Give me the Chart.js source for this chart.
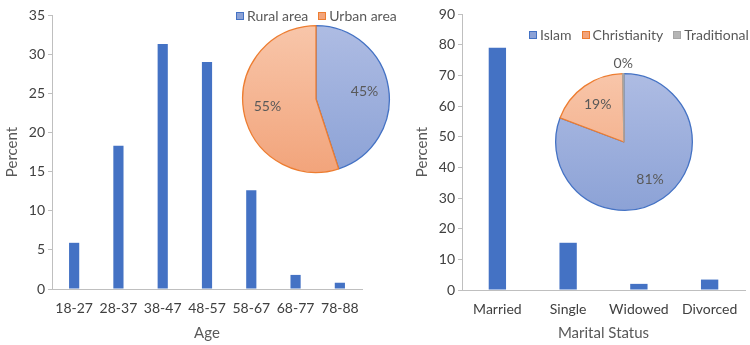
<!DOCTYPE html>
<html>
<head>
<meta charset="utf-8">
<script src="https://cdn.jsdelivr.net/npm/chart.js@4"></script>
<style>
  body { margin: 0; background: #fff; width: 750px; height: 345px; position: relative; overflow: hidden; font-family: Lato, sans-serif; }
  .box { position: absolute; }
  .legend { position: absolute; display: flex; align-items: center; font-size: 14px; color: #595959; white-space: nowrap; line-height: 15px; }
  .legend .item { display: flex; align-items: center; margin-right: 10px; }
  .legend .item:last-child { margin-right: 0; }
  .legend .sw { display: inline-block; width: 6px; height: 6px; border: 1px solid; margin-right: 3px; }
</style>
</head>
<body>
<div class="box" style="left:0;top:0;width:375px;height:345px"><canvas id="ageBar"></canvas></div>
<div class="box" style="left:375px;top:0;width:375px;height:345px"><canvas id="maritalBar"></canvas></div>
<div class="box" style="left:241px;top:24px;width:150px;height:150px"><canvas id="areaPie"></canvas></div>
<div class="box" style="left:539px;top:57px;width:170px;height:170px"><canvas id="religionPie"></canvas></div>
<div class="legend" id="areaLegend" style="left:236px;top:8px"></div>
<div class="legend" id="religionLegend" style="left:529px;top:27px"></div>
<script>
const ageGroups = ["18-27", "28-37", "38-47", "48-57", "58-67", "68-77", "78-88"];
const agePercent = [5.9, 18.3, 31.3, 29.0, 12.6, 1.8, 0.8];

const maritalStatus = ["Married", "Single", "Widowed", "Divorced"];
const maritalPercent = [79.0, 15.4, 2.0, 3.4];

const areaLabels = ["Rural area", "Urban area"];
const areaShare = [45, 55];

const religionLabels = ["Islam", "Christianity", "Traditional"];
const religionShare = [81, 19, 0.3];

const ageTicks = { max: 35, step: 5 };
const maritalTicks = { max: 90, step: 10 };

const barBlue = "#4472C4";
const axisGrey = "#BFBFBF";
const textGrey = "#595959";

// light top / darker bottom fills like the office gradient style
const sliceFills = [["#AEBCE3", "#8CA2D6"], ["#F8C6AA", "#F2A47B"], ["#CFCFCF", "#B5B5B5"]];
const sliceBorders = ["#4472C4", "#ED7D31", "#A5A5A5"];

Chart.defaults.font.family = "Lato, sans-serif";
Chart.defaults.color = textGrey;

function barChart(id, labels, values, ticks, xTitle, pad, barPct) {
  return new Chart(document.getElementById(id), {
    type: "bar",
    data: {
      labels: labels,
      datasets: [{ data: values, backgroundColor: barBlue, categoryPercentage: 1, barPercentage: barPct }]
    },
    options: {
      responsive: true,
      maintainAspectRatio: false,
      animation: false,
      layout: { padding: pad },
      plugins: { legend: { display: false }, tooltip: { enabled: false } },
      scales: {
        x: {
          grid: { display: false, drawTicks: false },
          border: { display: true, color: axisGrey },
          ticks: { color: "#404040", font: { size: 14 }, padding: 11 },
          title: { display: true, text: xTitle, color: textGrey, font: { size: 15 }, padding: { top: 0, bottom: 3 } },
          afterFit: s => { s.height = 345 - pad.bottomLine; }
        },
        y: {
          min: 0,
          max: ticks.max,
          ticks: { stepSize: ticks.step, color: "#404040", font: { size: 14 }, padding: 3 },
          grid: { drawOnChartArea: false, tickLength: 4, color: axisGrey },
          border: { color: axisGrey },
          title: { display: true, text: "Percent", color: textGrey, font: { size: 15 }, padding: { top: 3, bottom: 0 } },
          afterFit: s => { s.width = 52; }
        }
      }
    }
  });
}

barChart("ageBar", ageGroups, agePercent, ageTicks, "Age", { top: 15, right: 13, left: 0, bottom: 0, bottomLine: 289 }, 0.23);
barChart("maritalBar", maritalStatus, maritalPercent, maritalTicks, "Marital Status", { top: 14, right: 5, left: 35, bottom: 0, bottomLine: 290 }, 0.245);

function sliceFill(ctx) {
  const c = sliceFills[ctx.dataIndex];
  const area = ctx.chart.chartArea;
  if (!area) return c[1];
  const g = ctx.chart.ctx.createLinearGradient(0, area.top, 0, area.bottom);
  g.addColorStop(0, c[0]);
  g.addColorStop(1, c[1]);
  return g;
}

const pctLabels = {
  id: "pctLabels",
  afterDatasetsDraw(chart) {
    const ctx = chart.ctx;
    const data = chart.data.datasets[0].data;
    const total = data.reduce((a, b) => a + b, 0);
    ctx.save();
    ctx.font = "14px Lato, sans-serif";
    ctx.fillStyle = textGrey;
    ctx.textAlign = "center";
    ctx.textBaseline = "middle";
    chart.getDatasetMeta(0).data.forEach((arc, i) => {
      const p = arc.getProps(["x", "y", "startAngle", "endAngle", "outerRadius"], true);
      const share = data[i] / total;
      const mid = (p.startAngle + p.endAngle) / 2;
      const r = share < 0.02 ? p.outerRadius + 10 : p.outerRadius * 0.67;
      ctx.fillText(Math.round(share * 100) + "%", p.x + Math.cos(mid) * r, p.y + Math.sin(mid) * r);
    });
    ctx.restore();
  }
};

function pieChart(id, labels, values, pad) {
  return new Chart(document.getElementById(id), {
    type: "pie",
    data: {
      labels: labels,
      datasets: [{
        data: values,
        backgroundColor: sliceFill,
        borderColor: sliceBorders.slice(0, values.length),
        borderWidth: 1.3
      }]
    },
    options: {
      responsive: true,
      maintainAspectRatio: false,
      animation: false,
      layout: { padding: pad },
      plugins: { legend: { display: false }, tooltip: { enabled: false } }
    },
    plugins: [pctLabels]
  });
}

pieChart("areaPie", areaLabels, areaShare, 1);
pieChart("religionPie", religionLabels, religionShare, 16);

function buildLegend(id, labels) {
  const el = document.getElementById(id);
  labels.forEach((name, i) => {
    const item = document.createElement("span");
    item.className = "item";
    const sw = document.createElement("span");
    sw.className = "sw";
    sw.style.background = sliceFills[i][1];
    sw.style.borderColor = sliceBorders[i];
    item.appendChild(sw);
    item.appendChild(document.createTextNode(name));
    el.appendChild(item);
  });
}
buildLegend("areaLegend", areaLabels);
buildLegend("religionLegend", religionLabels);
</script>
</body>
</html>
